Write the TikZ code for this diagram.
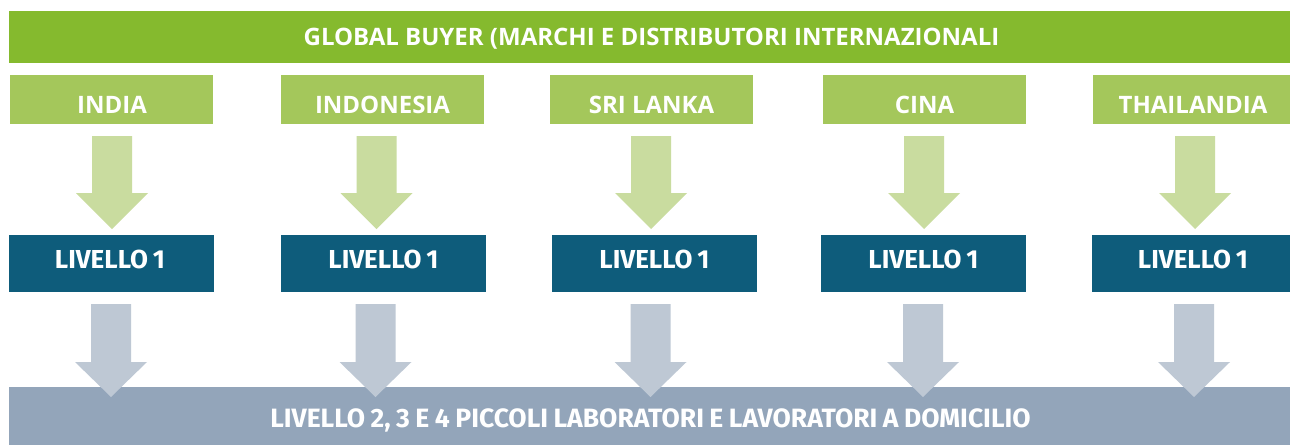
\documentclass[tikz,border=0pt]{standalone}
\usepackage{fontspec}
\setmainfont{Open Sans}
\newfontfamily\firafont{Fira Sans}
\newcommand{\lvfont}{\firafont\fontsize{26}{30}\selectfont\bfseries\spaceskip=5pt\relax}
\newcommand{\btfont}{\firafont\fontsize{26.5}{32}\selectfont\bfseries\spaceskip=5.5pt\relax}
\definecolor{gbgreen}{HTML}{85BA2E}
\definecolor{ctgreen}{HTML}{A4C75B}
\definecolor{argreen}{HTML}{C9DC9F}
\definecolor{lvblue}{HTML}{0E5C7B}
\definecolor{argrey}{HTML}{BEC8D4}
\definecolor{btgrey}{HTML}{93A5BA}
\tikzset{
  boxbase/.style={draw=none, inner sep=0pt, rectangle},
  topbar/.style={boxbase, fill=gbgreen, minimum width=1281pt, minimum height=52pt},
  ctbox/.style={boxbase, fill=ctgreen, minimum height=49pt},
  lvbox/.style={boxbase, fill=lvblue, minimum height=57pt},
  botbar/.style={boxbase, fill=btgrey, minimum width=1281pt, minimum height=58pt},
  toptext/.style={anchor=base, inner sep=0pt, text=white, font=\fontsize{24}{28}\selectfont\bfseries},
  cttext/.style={anchor=base, inner sep=0pt, text=white, font=\fontsize{24}{28}\selectfont\bfseries},
  lvtext/.style={anchor=base, inner sep=0pt, text=white, font=\lvfont},
  bttext/.style={anchor=base, inner sep=0pt, text=white, font=\btfont},
}
\newcommand{\blockarrowdraw}[5]{% cx, ytop, ybase, ytip, color
  \fill[#5] ({#1-20},#2) -- ({#1+20},#2) -- ({#1+20},#3) -- ({#1+36},#3) -- (#1,#4) -- ({#1-36},#3) -- ({#1-20},#3) -- cycle;}
\begin{document}
\begin{tikzpicture}[x=1pt,y=-1pt]
\useasboundingbox[fill=white] (0,0) rectangle (1290,445);
% top bar
\node[topbar] (gb) at (649.5,37) {};
\node[toptext] (gbt) at (651.5,45) {GLOBAL BUYER (MARCHI E DISTRIBUTORI INTERNAZIONALI};
% countries
\node[ctbox, minimum width=203pt] (c1) at (111.5,99.5) {};
\node[ctbox, minimum width=203pt] (c2) at (382.5,99.5) {};
\node[ctbox, minimum width=203pt] (c3) at (651.5,99.5) {};
\node[ctbox, minimum width=203pt] (c4) at (924.5,99.5) {};
\node[ctbox, minimum width=197pt] (c5) at (1191.5,99.5) {};
\node[cttext] (t1) at (112,113) {INDIA};
\node[cttext] (t2) at (382.5,113) {INDONESIA};
\node[cttext] (t3) at (651.5,113) {SRI LANKA};
\node[cttext] (t4) at (924.5,113) {CINA};
\node[cttext] (t5) at (1193,113) {THAILANDIA};
% green arrows
\blockarrowdraw{112}{136}{193}{229}{argreen}
\blockarrowdraw{376.5}{136}{193}{229}{argreen}
\blockarrowdraw{651}{136}{193}{229}{argreen}
\blockarrowdraw{924}{136}{193}{229}{argreen}
\blockarrowdraw{1195}{136}{193}{229}{argreen}
% livello 1
\node[lvbox, minimum width=205pt] (l1) at (111.5,263.5) {};
\node[lvbox, minimum width=205pt] (l2) at (383.5,263.5) {};
\node[lvbox, minimum width=205pt] (l3) at (654.5,263.5) {};
\node[lvbox, minimum width=205pt] (l4) at (923.5,263.5) {};
\node[lvbox, minimum width=198pt] (l5) at (1191,263.5) {};
\node[lvtext] (lt1) at (110,268) {LIVELLO 1};
\node[lvtext] (lt2) at (383.5,268) {LIVELLO 1};
\node[lvtext] (lt3) at (654.5,268) {LIVELLO 1};
\node[lvtext] (lt4) at (923.5,268) {LIVELLO 1};
\node[lvtext] (lt5) at (1193,268) {LIVELLO 1};
% bottom bar
\node[botbar] (bb) at (649.5,416) {};
% grey arrows
\blockarrowdraw{111}{304}{362}{397}{argrey}
\blockarrowdraw{375.5}{304}{362}{397}{argrey}
\blockarrowdraw{650.5}{304}{362}{397}{argrey}
\blockarrowdraw{923}{304}{362}{397}{argrey}
\blockarrowdraw{1194}{304}{362}{397}{argrey}
\node[bttext] (bbt) at (650.5,427) {LIVELLO 2, 3 E 4 PICCOLI LABORATORI E LAVORATORI A DOMICILIO};
\end{tikzpicture}
\end{document}
